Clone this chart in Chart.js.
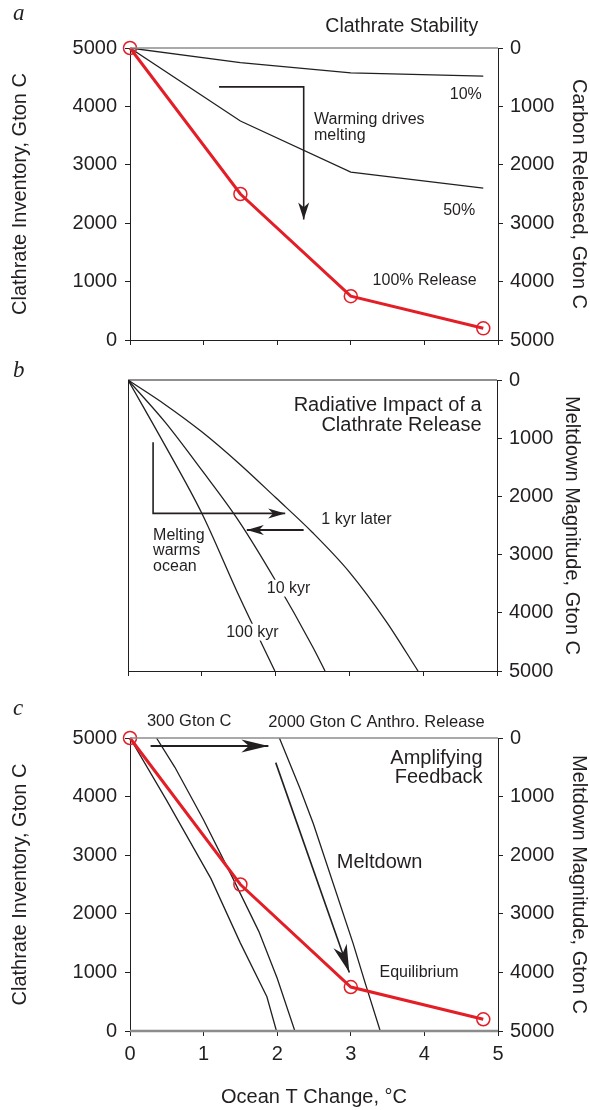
<!DOCTYPE html>
<html>
<head>
<meta charset="utf-8">
<script src="https://cdn.jsdelivr.net/npm/chart.js@4.4.1/dist/chart.umd.min.js"></script>
<style>
  body { margin: 0; background: #fff; }
  canvas { display: block; }
</style>
</head>
<body>
<canvas id="panel-a" width="590" height="360"></canvas>
<canvas id="panel-b" width="590" height="330"></canvas>
<canvas id="panel-c" width="590" height="420"></canvas>
<script>
'use strict'

/* ------------------------------ Data ------------------------------ */

const xTicks = [0, 1, 2, 3, 4, 5]
const yTicks = [0, 1000, 2000, 3000, 4000, 5000]

// panel a + c : clathrate inventory vs ocean warming
const oceanT = [0, 1.5, 3, 4.8]
const release100 = [5000, 2500, 750, 200]
const release50 = [5000, 3750, 2875, 2600]
const release10 = [5000, 4750, 4575, 4520]

// panel b : meltdown magnitude needed for a given warming
const kyr1T = [0, 0.5, 1, 1.5, 2, 2.5, 3, 3.5, 3.93]
const kyr1Melt = [0, 420, 890, 1430, 2020, 2620, 3300, 4150, 5000]
const kyr10T = [0, 0.5, 1, 1.5, 2, 2.5, 2.67]
const kyr10Melt = [0, 720, 1550, 2420, 3450, 4580, 5000]
const kyr100T = [0, 0.5, 1, 1.5, 1.99]
const kyr100Melt = [0, 1120, 2290, 3700, 5000]

// panel c : meltdown curves, 300 Gton C and 2000 Gton C anthropogenic release
const lowA_T = [0, 0.5, 1.1, 1.5, 1.86, 1.99]
const lowA_V = [5000, 3930, 2600, 1500, 585, 0]
const lowB_T = [0.36, 0.61, 1.0, 1.4, 1.75, 2.0, 2.24]
const lowB_V = [5000, 4500, 3600, 2600, 1700, 900, 0]
const anthroT = [2.03, 2.31, 2.49, 3.03, 3.2, 3.4]
const anthroV = [5000, 4140, 3540, 1500, 800, 0]

// arrows (data coords)
const arrowWarmT = [1.21, 2.36, 2.36]
const arrowWarmV = [4334, 4334, 2065]
const arrowOutT = [0.34, 0.34, 2.13]
const arrowOutM = [1070, 2292, 2292]
const arrowBackT = [2.38, 1.61]
const arrowBackM = [2577, 2577]
const arrowAnthroT = [0.28, 1.88]
const arrowAnthroV = [4863, 4863]
const arrowMeltT = [1.98, 2.98]
const arrowMeltV = [4580, 1000]

/* ------------------------------ Styles ------------------------------ */

const INK = '#231f20'
const RED = '#e31e26'
const FRAME = '#8c8c8c'
const SANS = '"Liberation Sans", Arial, Helvetica, sans-serif'
const SERIF = '"Liberation Serif", "Times New Roman", serif'
const tickFont = { family: SANS, size: 20 }
const titleFont = { family: SANS, size: 20, lineHeight: 1 }

const pts = (xs, ys) => xs.map((x, i) => ({ x, y: ys[i] }))

function curve (xs, ys, extra) {
  return Object.assign({
    data: pts(xs, ys),
    borderColor: INK,
    borderWidth: 1.3,
    pointRadius: 0,
    tension: 0
  }, extra)
}

function redLine () {
  return {
    data: pts(oceanT, release100),
    borderColor: RED,
    borderWidth: 3,
    pointRadius: 6.5,
    pointBorderWidth: 1.5,
    pointBorderColor: RED,
    pointBackgroundColor: 'rgba(0,0,0,0)',
    tension: 0,
    clip: false
  }
}

function arrow (xs, ys, head, extra) {
  return Object.assign(curve(xs, ys, { borderWidth: 1.6 }), { arrowHead: head }, extra)
}

function xScale (withLabels, height) {
  return {
    type: 'linear',
    position: 'bottom',
    min: 0,
    max: 5,
    afterBuildTicks: s => { s.ticks = xTicks.map(v => ({ value: v })) },
    afterFit: s => { s.height = height },
    grid: { drawOnChartArea: false, color: INK, tickLength: 5 },
    border: { color: INK, width: 1 },
    ticks: { display: withLabels, color: INK, font: tickFont, padding: 6.5, callback: v => String(v) },
    title: { display: withLabels, text: 'Ocean T Change, °C', color: INK, font: titleFont, padding: { top: 0, bottom: 3 } }
  }
}

function yScale (side, reverse, width, title, titlePad, withTicks) {
  return {
    type: 'linear',
    position: side,
    reverse: reverse,
    min: 0,
    max: 5000,
    afterBuildTicks: s => { s.ticks = yTicks.map(v => ({ value: v })) },
    afterFit: s => { s.width = width },
    grid: { display: withTicks, drawOnChartArea: false, color: INK, tickLength: 5 },
    border: { display: true, color: INK, width: 1 },
    ticks: { display: withTicks, color: INK, font: tickFont, padding: side === 'left' ? 8 : 7, callback: v => String(v) },
    title: { display: !!title, text: title, color: INK, font: titleFont, padding: { top: titlePad, bottom: 0 } }
  }
}

/* ------------------------------ Plugin ------------------------------ */

function drawHead (ctx, from, tip, len, half) {
  const ang = Math.atan2(tip.y - from.y, tip.x - from.x)
  ctx.save()
  ctx.translate(tip.x, tip.y)
  ctx.rotate(ang)
  ctx.beginPath()
  ctx.moveTo(0, 0)
  ctx.lineTo(-len, -half)
  ctx.lineTo(-len * 0.72, 0)
  ctx.lineTo(-len, half)
  ctx.closePath()
  ctx.fillStyle = INK
  ctx.fill()
  ctx.restore()
}

// labels, arrow heads, frame top and panel letter
function decorate (letter, letterY, labels, yAxis, frameTop, frameBottom) {
  return {
    id: 'decorate',
    afterDatasetsDraw (chart) {
      const ctx = chart.ctx
      const area = chart.chartArea
      const xs = chart.scales.x
      const ys = chart.scales[yAxis]

      ctx.save()
      ctx.strokeStyle = frameTop.color
      ctx.lineWidth = frameTop.width
      ctx.beginPath()
      ctx.moveTo(area.left, area.top)
      ctx.lineTo(area.right, area.top)
      ctx.stroke()
      if (frameBottom) {
        ctx.strokeStyle = frameBottom.color
        ctx.lineWidth = frameBottom.width
        ctx.beginPath()
        ctx.moveTo(area.left, area.bottom)
        ctx.lineTo(area.right, area.bottom)
        ctx.stroke()
      }

      chart.data.datasets.forEach((ds, i) => {
        if (!ds.arrowHead) return
        const p = chart.getDatasetMeta(i).data
        drawHead(ctx, p[p.length - 2], p[p.length - 1], ds.arrowHead[0], ds.arrowHead[1])
      })

      ctx.textBaseline = 'alphabetic'
      labels.forEach(l => {
        const px = xs.getPixelForValue(l.x)
        const py = ys.getPixelForValue(l.y)
        ctx.font = `${l.size}px ${SANS}`
        ctx.textAlign = l.align
        // labels sitting on a curve hide it, as in the original
        if (l.knockout) {
          const w = ctx.measureText(l.text).width
          const x0 = l.align === 'right' ? px - w : px
          ctx.fillStyle = '#fff'
          ctx.fillRect(x0 - 3, py - l.size * 0.8, w + 6, l.size * 1.05)
        }
        ctx.fillStyle = INK
        ctx.fillText(l.text, px, py)
      })

      ctx.font = `italic 23px ${SERIF}`
      ctx.textAlign = 'left'
      ctx.fillText(letter, 13, letterY)
      ctx.restore()
    }
  }
}

function baseOptions (padTop) {
  return {
    responsive: false,
    animation: false,
    layout: { padding: { top: padTop, left: 0, right: 0, bottom: 0 }, autoPadding: false },
    plugins: { legend: { display: false }, tooltip: { enabled: false } },
    elements: { line: { borderCapStyle: 'butt', borderJoinStyle: 'miter' } }
  }
}

/* ------------------------------ Panel a ------------------------------ */

const labelsA = [
  { text: 'Clathrate Stability', x: 4.73, y: 5273, size: 19.5, align: 'right' },
  { text: '10%', x: 4.78, y: 4135, size: 16, align: 'right' },
  { text: 'Warming drives', x: 2.5, y: 3703, size: 16, align: 'left' },
  { text: 'melting', x: 2.5, y: 3430, size: 16, align: 'left' },
  { text: '50%', x: 4.69, y: 2133, size: 16, align: 'right' },
  { text: '100% Release', x: 4.71, y: 939, size: 16, align: 'right' }
]

new Chart(document.getElementById('panel-a'), {
  type: 'line',
  data: {
    datasets: [
      redLine(),
      curve(oceanT, release50),
      curve(oceanT, release10),
      arrow(arrowWarmT, arrowWarmV, [17, 5.5])
    ]
  },
  options: Object.assign(baseOptions(48), {
    scales: {
      x: xScale(false, 19),
      y: yScale('left', false, 130, 'Clathrate Inventory, Gton C', 10.5, true),
      y2: yScale('right', true, 92, 'Carbon Released, Gton C', 1, true)
    }
  }),
  plugins: [decorate('a', 20, labelsA, 'y', { color: FRAME, width: 1.5 })]
})

/* ------------------------------ Panel b ------------------------------ */

const labelsB = [
  { text: 'Radiative Impact of a', x: 4.79, y: 541, size: 20, align: 'right' },
  { text: 'Clathrate Release', x: 4.79, y: 870, size: 20, align: 'right' },
  { text: '1 kyr later', x: 2.62, y: 2474, size: 16, align: 'left' },
  { text: '10 kyr', x: 1.88, y: 3652, size: 16, align: 'left', knockout: true },
  { text: '100 kyr', x: 1.33, y: 4408, size: 16, align: 'left', knockout: true },
  { text: 'Melting', x: 0.34, y: 2747, size: 16, align: 'left' },
  { text: 'warms', x: 0.34, y: 3015, size: 16, align: 'left' },
  { text: 'ocean', x: 0.34, y: 3282, size: 16, align: 'left' }
]

const smooth = { cubicInterpolationMode: 'monotone', yAxisID: 'yR' }

new Chart(document.getElementById('panel-b'), {
  type: 'line',
  data: {
    datasets: [
      curve(kyr1T, kyr1Melt, smooth),
      curve(kyr10T, kyr10Melt, smooth),
      curve(kyr100T, kyr100Melt, smooth),
      arrow(arrowOutT, arrowOutM, [17, 5], { yAxisID: 'yR' }),
      arrow(arrowBackT, arrowBackM, [17, 5], { yAxisID: 'yR', borderWidth: 2 })
    ]
  },
  options: Object.assign(baseOptions(20), {
    scales: {
      x: xScale(false, 17),
      yL: yScale('left', false, 128, '', 0, false),
      yR: yScale('right', true, 93, 'Meltdown Magnitude, Gton C', 8, true)
    }
  }),
  plugins: [decorate('b', 17, labelsB, 'yR', { color: INK, width: 1 })]
})

/* ------------------------------ Panel c ------------------------------ */

const labelsC = [
  { text: '300 Gton C', x: 0.23, y: 5205, size: 16.5, align: 'left' },
  { text: '2000 Gton C Anthro. Release', x: 4.82, y: 5183, size: 16.5, align: 'right' },
  { text: 'Amplifying', x: 4.79, y: 4563, size: 20, align: 'right' },
  { text: 'Feedback', x: 4.79, y: 4239, size: 20, align: 'right' },
  { text: 'Meltdown', x: 2.81, y: 2788, size: 20, align: 'left' },
  { text: 'Equilibrium', x: 3.39, y: 930, size: 16, align: 'left' }
]

new Chart(document.getElementById('panel-c'), {
  type: 'line',
  data: {
    datasets: [
      redLine(),
      curve(lowA_T, lowA_V),
      curve(lowB_T, lowB_V),
      curve(anthroT, anthroV),
      arrow(arrowAnthroT, arrowAnthroV, [27, 6.5], { borderWidth: 2 }),
      arrow(arrowMeltT, arrowMeltV, [28, 7])
    ]
  },
  options: Object.assign(baseOptions(48), {
    scales: {
      x: xScale(true, 79),
      y: yScale('left', false, 130, 'Clathrate Inventory, Gton C', 10.5, true),
      y2: yScale('right', true, 92, 'Meltdown Magnitude, Gton C', 1, true)
    }
  }),
  plugins: [decorate('c', 25, labelsC, 'y', { color: FRAME, width: 1.5 }, { color: FRAME, width: 2.5 })]
})
</script>
</body>
</html>
